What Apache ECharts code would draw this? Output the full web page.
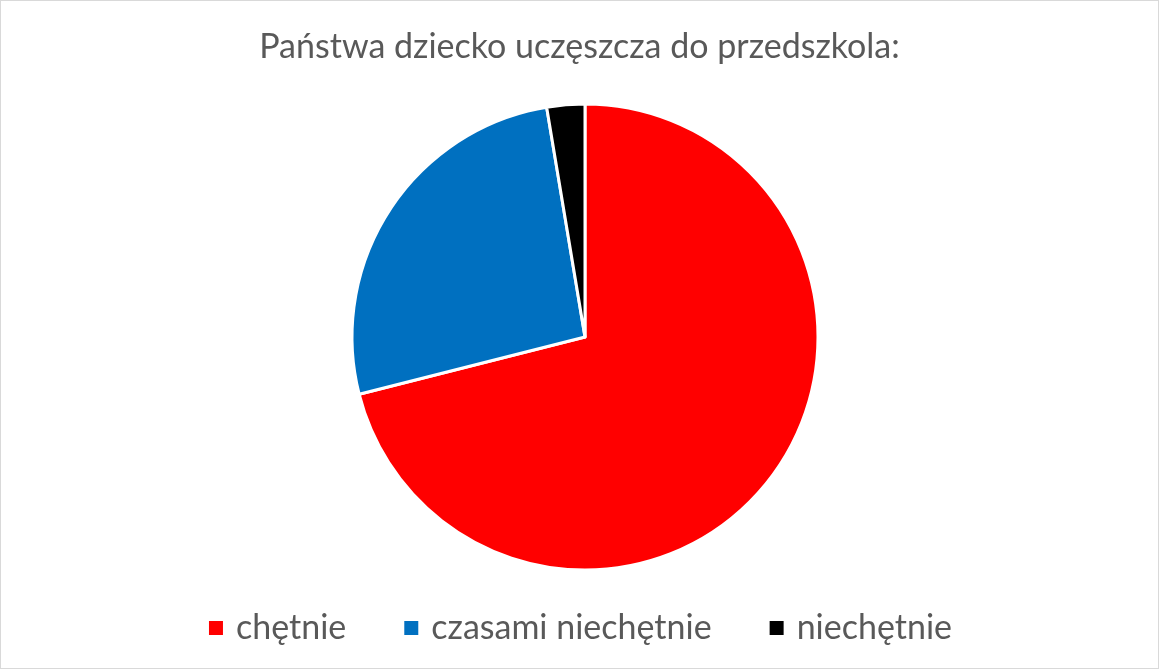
<!DOCTYPE html>
<html>
<head>
<meta charset="utf-8">
<script src="https://cdn.jsdelivr.net/npm/echarts@6/dist/echarts.min.js"></script>
<style>
  html, body { margin: 0; padding: 0; background: #fff; }
  #main { width: 1157px; height: 667px; border: 1px solid #d9d9d9; }
</style>
</head>
<body>
<div id="main"></div>
<script>
// dane wykresu
var categories = ['chętnie', 'czasami niechętnie', 'niechętnie'];
var values = [27, 10, 1];
var colors = ['#ff0000', '#0070c0', '#000000'];

var myChart = echarts.init(document.getElementById('main'));
myChart.setOption({
    title: {
        text: 'Państwa dziecko uczęszcza do przedszkola:',
        left: 'center',
        top: 24,
        textStyle: {
            fontFamily: 'Lato',
            fontSize: 34,
            fontWeight: 'normal',
            color: '#595959'
        }
    },
    legend: {
        bottom: 18,
        left: 'center',
        itemWidth: 16,
        itemHeight: 16,
        itemGap: 56,
        icon: 'rect',
        textStyle: {
            fontFamily: 'Lato',
            fontSize: 34,
            color: '#595959',
            padding: [0, 0, 0, 7]
        },
        data: categories
    },
    color: colors,
    series: [{
        type: 'pie',
        radius: 233,
        center: [584, 336],
        startAngle: 90,
        clockwise: true,
        label: { show: false },
        labelLine: { show: false },
        itemStyle: { borderColor: '#fff', borderWidth: 3 },
        data: categories.map(function (c, i) {
            return { name: c, value: values[i] };
        })
    }]
});
</script>
</body>
</html>
